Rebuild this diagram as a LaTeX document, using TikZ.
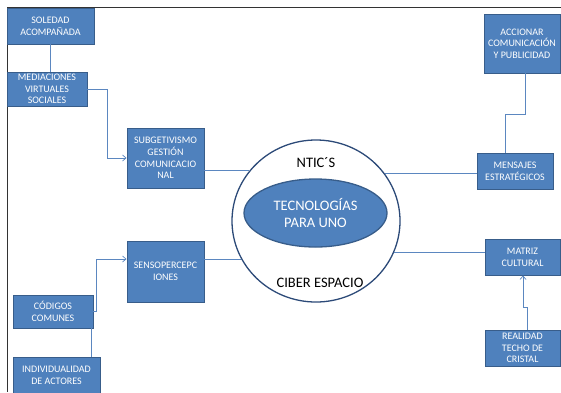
\documentclass[tikz,border=0pt]{standalone}
\usepackage{fontspec}
\setmainfont{Carlito}
\usetikzlibrary{arrows.meta,positioning,shapes.geometric,calc}

\definecolor{boxfill}{HTML}{4F81BD}
\definecolor{boxline}{HTML}{385D8A}
\definecolor{linkblue}{HTML}{5B87C0}
\definecolor{ringline}{HTML}{2C4A78}

\begin{document}
\begin{tikzpicture}[
  x=1pt, y=-1pt,
  font=\fontsize{10}{11.7}\selectfont,
  topic/.style={
    draw=boxline, fill=boxfill, text=white, align=center,
    inner sep=0pt, line width=0.9pt},
  ringtext/.style={font=\fontsize{14.5}{17.7}\selectfont, align=center, inner sep=0pt},
  link/.style={draw=linkblue, line width=0.7pt},
  arr/.style={link, -{Straight Barb[length=3.5pt,width=6pt]}},
  frame/.style={draw=black!80, line width=0.9pt}
]
\useasboundingbox (0,0) rectangle (561,392);

% outer frame
\draw[frame] (561,7) -- (7,7) -- (7,392);

% left column
\node[topic, minimum width=87pt, minimum height=36pt] (sol) at (50.5,26) {SOLEDAD\\ACOMPAÑADA};
\node[topic, minimum width=80pt, minimum height=34pt] (med) at (47,89) {MEDIACIONES\\VIRTUALES\\SOCIALES};
\node[topic, minimum width=77pt, minimum height=60pt] (sub) at (165.5,158) {SUBGETIVISMO\\GESTIÓN\\COMUNICACIO\\NAL};
\node[topic, minimum width=77pt, minimum height=61pt] (sen) at (165.5,271.5) {SENSOPERCEPC\\IONES};
\node[topic, minimum width=80pt, minimum height=33pt] (cod) at (53,311.5) {CÓDIGOS\\COMUNES};
\node[topic, minimum width=87pt, minimum height=36pt] (ind) at (56.5,375) {INDIVIDUALIDAD\\DE ACTORES};

% right column
\node[topic, minimum width=76pt, minimum height=59pt] (acc) at (522,43.5) {ACCIONAR\\COMUNICACIÓN\\Y PUBLICIDAD};
\node[topic, minimum width=76pt, minimum height=36pt] (men) at (515,171) {MENSAJES\\ESTRATÉGICOS};
\node[topic, minimum width=75pt, minimum height=36pt] (mat) at (522.5,257) {MATRIZ\\CULTURAL};
\node[topic, minimum width=75pt, minimum height=36pt] (rea) at (522.5,348) {REALIDAD\\TECHO DE\\CRISTAL};

% centre
\node[ellipse, draw=ringline, line width=1.3pt, minimum width=168pt, minimum height=162pt, inner sep=0pt] (ntic) at (316,221) {};
\node[ellipse, draw=boxline, fill=boxfill, line width=1.3pt, minimum width=143pt, minimum height=68pt,
  text=white, ringtext] (tec) at (315.5,213) {TECNOLOGÍAS\\PARA UNO};
\node[ringtext] (nt) at (316,163) {NTIC´S};
\node[ringtext] (cib) at (320,283) {CIBER ESPACIO};

% connectors
\draw[link] (sol.south) -- (sol.south |- med.north);
\draw[arr] (med.east) -- ++(20,0) |- (sub.west);
\draw[arr] (cod.east) -- ++(3,0) |- ([yshift=12.5pt]sen.west);
\draw[link] ([xshift=38pt]cod.south) -- ([xshift=38pt]cod.south |- ind.north);
\draw[link] ([xshift=3pt]acc.south) |- ++(-20,41) -- ([xshift=-10pt]men.north);
\draw[arr] ([xshift=4.5pt]rea.north) |- ++(-4,-22) -- ([xshift=0.5pt]mat.south);

\foreach \b/\s/\a in {sub/east/143, sen/east/207, men/west/35, mat/west/338}
  \draw[link] (ntic.\a) -- (ntic.\a -| \b.\s);

\end{tikzpicture}
\end{document}
